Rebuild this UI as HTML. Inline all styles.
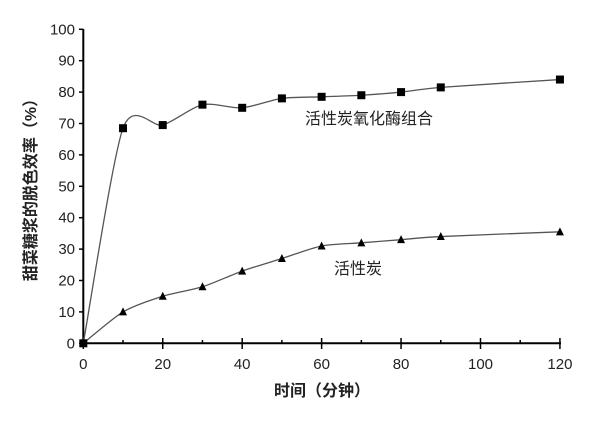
<!DOCTYPE html>
<html><head><meta charset="utf-8"><style>
body{margin:0;background:#fff;}
svg text{font-family:"Liberation Sans","Noto Sans CJK SC",sans-serif;fill:#222;}
</style></head><body>
<svg id="s" width="600" height="421" xmlns="http://www.w3.org/2000/svg">
<g stroke="#000" stroke-width="2" fill="none">
<line x1="83.3" y1="29" x2="83.3" y2="344"/>
<line x1="82" y1="343.3" x2="561" y2="343.3"/>
</g>
<g id="ticks" stroke="#000" stroke-width="1.5"></g>
<g id="labels" font-size="15"></g>
<path id="p1" fill="none" stroke="#555" stroke-width="1.3"/>
<path id="p2" fill="none" stroke="#555" stroke-width="1.3"/>
<g id="m"></g>
<text x="305" y="124" font-size="16">活性炭氧化酶组合</text>
<text x="334" y="274" font-size="16">活性炭</text>
<text x="322" y="396" font-size="16" text-anchor="middle" font-weight="bold">时间（分钟）</text>
<text transform="translate(36,186) rotate(-90)" font-size="16" text-anchor="middle" font-weight="bold">甜菜糖浆的脱色效率（%）</text>
</svg>
<script>
var X=function(v){return 83.3+v*3.972},Y=function(v){return 343.3-v*3.14};
var ns="http://www.w3.org/2000/svg";
function el(p,t,a,txt){var e=document.createElementNS(ns,t);for(var k in a)e.setAttribute(k,a[k]);if(txt!=null)e.textContent=txt;document.getElementById(p).appendChild(e);}
for(var v=0;v<=100;v+=10){el("ticks","line",{x1:79,x2:83.3,y1:Y(v),y2:Y(v)});el("labels","text",{x:75,y:Y(v)+5,"text-anchor":"end"},v);}
for(var v=0;v<=120;v+=10){var big=v%20==0;el("ticks","line",{x1:X(v),x2:X(v),y1:big?338:340,y2:big?349:343.3});if(big)el("labels","text",{x:X(v),y:369,"text-anchor":"middle"},v);}
var xs=[0,10,20,30,40,50,60,70,80,90,120];
var a=[0,68.5,69.5,76,75,78,78.5,79,80,81.5,84];
var b=[0,10,15,18,23,27,31,32,33,34,35.5];
function path(ys){var P=xs.map(function(x,i){return[X(x),Y(ys[i])]});var d="M"+P[0];
for(var i=0;i<P.length-1;i++){var p0=P[Math.max(0,i-1)],p1=P[i],p2=P[i+1],p3=P[Math.min(P.length-1,i+2)];
var t=0.13;d+=" C"+(p1[0]+(p2[0]-p0[0])*t)+","+(p1[1]+(p2[1]-p0[1])*t)+" "+(p2[0]-(p3[0]-p1[0])*t)+","+(p2[1]-(p3[1]-p1[1])*t)+" "+p2[0]+","+p2[1];}return d;}
document.getElementById("p1").setAttribute("d",path(a));
document.getElementById("p2").setAttribute("d",path(b));
xs.forEach(function(x,i){var cx=X(x),cy=Y(a[i]);el("m","rect",{x:cx-4,y:cy-4,width:8,height:8,fill:"#000"});
cy=Y(b[i]);el("m","polygon",{points:(cx-4)+","+(cy+3.5)+" "+(cx+4)+","+(cy+3.5)+" "+cx+","+(cy-4.5),fill:"#000"});});
</script>
</body></html>
